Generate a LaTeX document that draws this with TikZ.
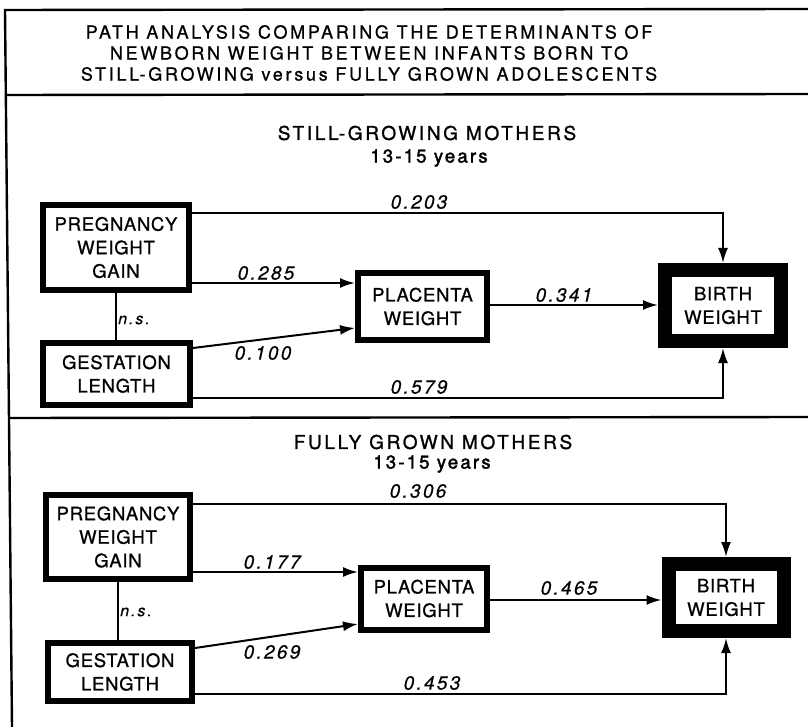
\documentclass[tikz,border=0pt]{standalone}
\usepackage{fontspec}
\usetikzlibrary{arrows.meta}
\newfontfamily\hvbox[LetterSpace=4,FakeBold=0.8]{TeX Gyre Heros}
\newfontfamily\hvtitle[LetterSpace=15,FakeBold=0.8]{TeX Gyre Heros}
\newfontfamily\hvhead[LetterSpace=14,FakeBold=1.2]{TeX Gyre Heros}
\newfontfamily\hvyears[LetterSpace=12,FakeBold=2]{TeX Gyre Heros}
\newfontfamily\hvlbl[LetterSpace=12,FakeBold=0.6]{TeX Gyre Heros}
\tikzset{
  pbox/.style={draw, line width=6pt, outer sep=3pt, inner sep=0pt, align=center,
    font={\hvbox\fontsize{18.5}{23.5}\selectfont}},
  bwbox/.style={draw, line width=14pt, outer sep=7pt, inner sep=0pt, align=center,
    font={\hvbox\fontsize{18.5}{23.5}\selectfont}},
  conn/.style={line width=2pt, -{Latex[length=15pt,width=10pt]}},
  plain/.style={line width=2pt},
  frame/.style={line width=2.4pt},
  lbl/.style={inner sep=0pt, font={\hvlbl\itshape\fontsize{19}{19}\selectfont}},
  nslbl/.style={inner sep=0pt, font={\hvlbl\itshape\fontsize{16}{16}\selectfont}},
  titletext/.style={inner sep=0pt, align=center, font={\hvtitle\fontsize{18}{21}\selectfont}},
  headtext/.style={inner sep=0pt, font={\hvhead\fontsize{19}{19}\selectfont}},
  yearstext/.style={inner sep=0pt, font={\hvyears\fontsize{18.5}{18.5}\selectfont}},
}
\begin{document}
\begin{tikzpicture}[x=1pt,y=-1pt]
\useasboundingbox (0,0) rectangle (808,727);
% frame
\coordinate (ftl) at (5,10);
\coordinate (ftr) at (808,9);
\coordinate (fbl) at (12,727);
\coordinate (d1l) at (5,95);
\coordinate (d1r) at (808,94);
\coordinate (d2l) at (9,418);
\coordinate (d2r) at (808,417);
\draw[frame] (ftr) -- (ftl) -- (fbl);
\draw[frame] (d1l) -- (d1r);
\draw[frame] (d2l) -- (d2r);
% title
\node[titletext] (title) at (369,53) {PATH ANALYSIS COMPARING THE DETERMINANTS OF\\NEWBORN WEIGHT BETWEEN INFANTS BORN TO\\STILL-GROWING versus FULLY GROWN ADOLESCENTS};

% ===== Section 1 =====
\node[headtext] (h1) at (427,133) {STILL-GROWING MOTHERS};
\node[yearstext] (y1) at (429,158) {13-15 years};
\node[pbox, minimum width=146pt, minimum height=85pt] (pwg1) at (116,247.5) {PREGNANCY\\WEIGHT\\GAIN};
\node[pbox, minimum width=147pt, minimum height=62pt] (gl1) at (116.5,374) {GESTATION\\LENGTH};
\node[pbox, minimum width=129pt, minimum height=67pt] (pl1) at (422.5,306.5) {PLACENTA\\WEIGHT};
\node[bwbox, minimum width=116pt, minimum height=71pt] (bw1) at (723,305.5) {BIRTH\\WEIGHT};
\draw[conn] (pwg1.east |- 0,213) -| (bw1.north);
\draw[conn] (pwg1.east |- 0,283) -- (pl1.west |- 0,283);
\draw[conn] (gl1.east |- 0,348) -- (pl1.west |- 0,328);
\draw[conn] (pl1.east |- 0,305) -- (bw1.west |- 0,305);
\draw[conn] (gl1.east |- 0,398) -| (bw1.south);
\draw[plain] (pwg1.south) -- (pwg1.south |- gl1.north);
\node[lbl] (l203) at (419,202) {0.203};
\node[lbl] (l285) at (266,273) {0.285};
\node[lbl] (l100) at (263,353) {0.100};
\node[nslbl] (ns1) at (134,320) {n.s.};
\node[lbl] (l341) at (564,295) {0.341};
\node[lbl] (l579) at (419,387) {0.579};

% ===== Section 2 =====
\node[headtext] (h2) at (433,442) {FULLY GROWN MOTHERS};
\node[yearstext] (y2) at (432,464) {13-15 years};
\node[pbox, minimum width=144pt, minimum height=84pt] (pwg2) at (118,537) {PREGNANCY\\WEIGHT\\GAIN};
\node[pbox, minimum width=144pt, minimum height=58pt] (gl2) at (120,672) {GESTATION\\LENGTH};
\node[pbox, minimum width=126pt, minimum height=62pt] (pl2) at (424,598.5) {PLACENTA\\WEIGHT};
\node[bwbox, minimum width=115pt, minimum height=67pt] (bw2) at (726,597.5) {BIRTH\\WEIGHT};
\draw[conn] (pwg2.east |- 0,504) -| (bw2.north);
\draw[conn] (pwg2.east |- 0,572) -- (pl2.west |- 0,572);
\draw[conn] (gl2.east |- 0,648) -- (pl2.west |- 0,624);
\draw[conn] (pl2.east |- 0,600) -- (bw2.west |- 0,600);
\draw[conn] (gl2.east |- 0,694) -| (bw2.south);
\draw[plain] (pwg2.south) -- (pwg2.south |- gl2.north);
\node[lbl] (l306) at (418,491) {0.306};
\node[lbl] (l177) at (272,562) {0.177};
\node[lbl] (l269) at (272,652) {0.269};
\node[nslbl] (ns2) at (136,612) {n.s.};
\node[lbl] (l465) at (569,588) {0.465};
\node[lbl] (l453) at (432,683) {0.453};
\end{tikzpicture}
\end{document}
